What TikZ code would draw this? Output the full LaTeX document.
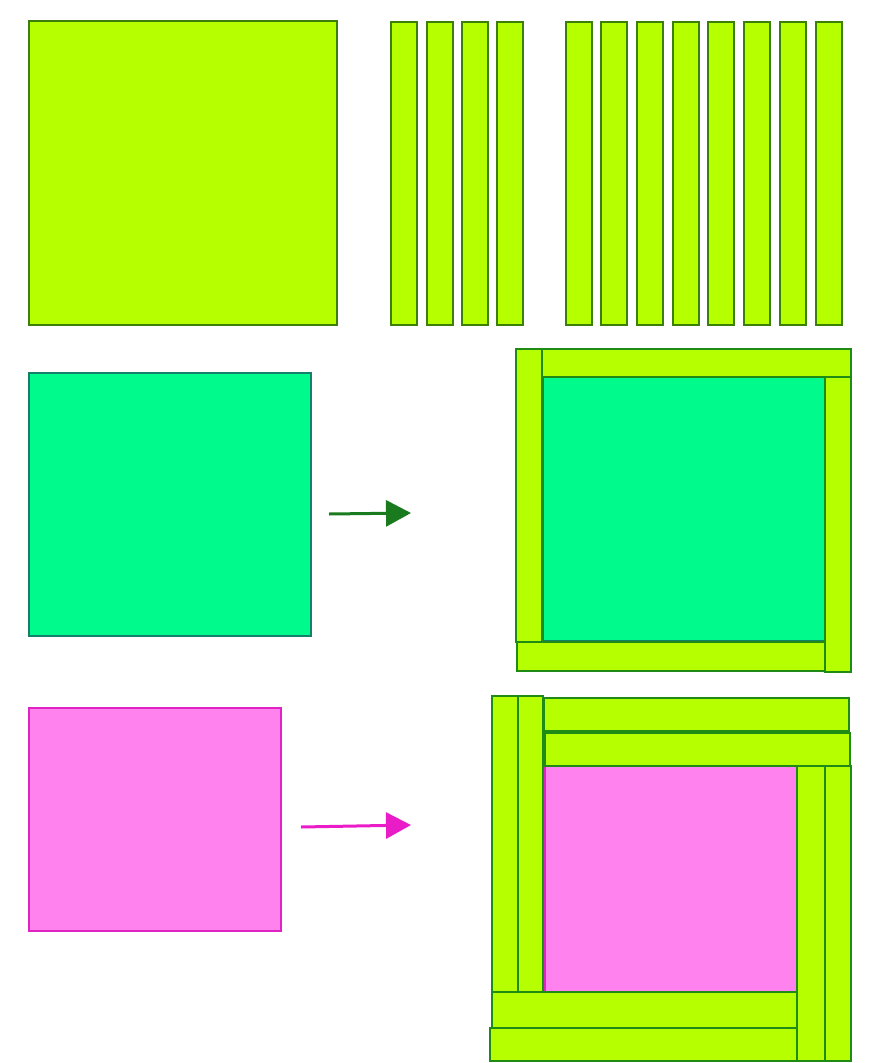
\documentclass[tikz,border=0pt]{standalone}
\usetikzlibrary{arrows.meta}
\definecolor{lime}{HTML}{B5FF00}
\definecolor{limeedge}{HTML}{3C7F08}
\definecolor{frameedge}{HTML}{1F8A14}
\definecolor{teal}{HTML}{00FA8C}
\definecolor{tealedge}{HTML}{15806A}
\definecolor{pink}{HTML}{FF82EE}
\definecolor{pinkedge}{HTML}{E024C4}
\definecolor{arrgreen}{HTML}{1A7A1E}
\definecolor{arrpink}{HTML}{EA1CC8}
\tikzset{
  strip/.style={fill=lime,draw=limeedge,line width=1.4pt},
  fstrip/.style={fill=lime,draw=frameedge,line width=1.6pt},
  tealsq/.style={fill=teal,draw=tealedge,line width=1.4pt},
  pinksq/.style={fill=pink,draw=pinkedge,line width=1.4pt},
  arr/.style={line width=3pt,-{Triangle[length=25pt,width=26pt]}}
}
\begin{document}
\begin{tikzpicture}[x=1pt,y=-1pt]
\useasboundingbox (0,0) rectangle (877,1063);
% top row
\draw[strip] (29,21) rectangle (337,325);
\foreach \x in {391,427,462,497} {\draw[strip] (\x,22) rectangle ++(26,303);}
\foreach \x in {566,601,637,673,708,744,780,816} {\draw[strip] (\x,22) rectangle ++(26,303);}
% second row
\draw[tealsq] (29,373) rectangle (311,636);
\draw[tealsq] (543,377) rectangle (825,641);
\draw[fstrip] (516,349) rectangle (542,642);
\draw[fstrip] (542,349) rectangle (851,377);
\draw[fstrip] (825,377) rectangle (851,672);
\draw[fstrip] (517,642) rectangle (825,671);
\coordinate (a1) at (329,514);
\coordinate (b1) at (411,513);
\draw[arr,draw=arrgreen,fill=arrgreen] (a1) -- (b1);
% third row
\draw[pinksq] (29,708) rectangle (281,931);
\draw[pinksq] (545,766) rectangle (797,992);
\draw[fstrip] (492,696) rectangle (518,992);
\draw[fstrip] (518,696) rectangle (543,992);
\draw[fstrip] (544,698) rectangle (849,731);
\draw[fstrip] (545,733) rectangle (850,766);
\draw[fstrip] (797,766) rectangle (825,1061);
\draw[fstrip] (825,766) rectangle (851,1061);
\draw[fstrip] (492,992) rectangle (797,1028);
\draw[fstrip] (490,1028) rectangle (797,1061);
\coordinate (a2) at (301,827);
\coordinate (b2) at (411,825);
\draw[arr,draw=arrpink,fill=arrpink] (a2) -- (b2);
\end{tikzpicture}
\end{document}
